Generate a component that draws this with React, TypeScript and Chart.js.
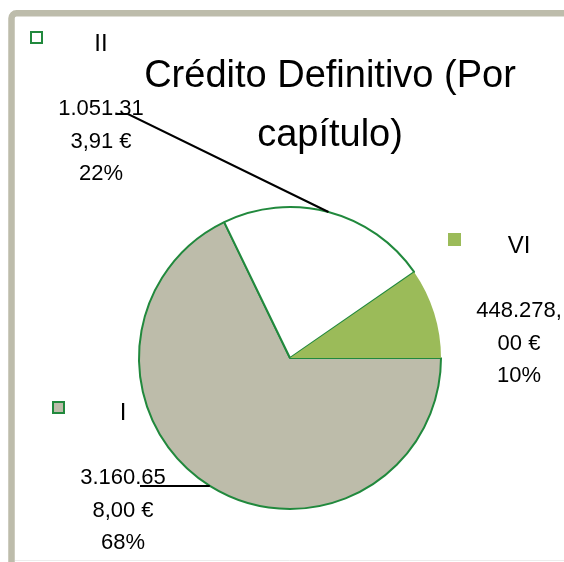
import React, { useEffect, useRef } from "react";
import { Chart, registerables } from "chart.js";

Chart.register(...registerables);

const categories = ["I", "II", "VI"];
const values = [3160658.0, 1051313.91, 448278.0];
const valueLines = [
  ["3.160.65", "8,00 €", "68%"],
  ["1.051.31", "3,91 €", "22%"],
  ["448.278,", "00 €", "10%"],
];
const titleLines = ["Crédito Definitivo (Por", "capítulo)"];

const sliceColors = ["#bdbcaa", "#ffffff", "#9bbb59"];
const edgeColors = ["#21893d", "#21893d", "#9bbb59"];
const FRAME = "#bdbcab";
const FONT = '"Liberation Sans", Arial, sans-serif';

const labelLayout = [
  { mx: 52, my: 401, cx: 123, nameY: 420, valY: 484, lead: [[140, 486]] },
  { mx: 30, my: 31, cx: 101, nameY: 51, valY: 115, lead: [[117, 114], [128, 114]] },
  { mx: 448, my: 233, cx: 519, nameY: 253, valY: 317, lead: null as null | number[][] },
];

const labelPlugin = {
  id: "customLabels",
  beforeDraw(chart: any) {
    const ctx = chart.ctx as CanvasRenderingContext2D;
    ctx.save();
    ctx.fillStyle = "#ffffff";
    ctx.fillRect(0, 0, chart.width, chart.height);
    ctx.strokeStyle = FRAME;
    ctx.lineWidth = 6.5;
    ctx.beginPath();
    const r = 5;
    const x0 = 11.5, y0 = 13.3;
    ctx.moveTo(x0, chart.height + 10);
    ctx.lineTo(x0, y0 + r);
    ctx.arcTo(x0, y0, x0 + r, y0, r);
    ctx.lineTo(chart.width + 10, y0);
    ctx.stroke();
    ctx.strokeStyle = "#ececec";
    ctx.lineWidth = 1;
    ctx.beginPath();
    ctx.moveTo(15, 560.5);
    ctx.lineTo(chart.width, 560.5);
    ctx.stroke();
    ctx.restore();
  },
  afterDraw(chart: any) {
    const ctx = chart.ctx as CanvasRenderingContext2D;
    const meta = chart.getDatasetMeta(0);
    ctx.save();
    ctx.fillStyle = "#000000";
    ctx.textAlign = "center";
    ctx.textBaseline = "alphabetic";
    ctx.font = `38px ${FONT}`;
    ctx.fillText(titleLines[0], 330, 87);
    ctx.fillText(titleLines[1], 330, 146);

    categories.forEach((name, i) => {
      const L = labelLayout[i];
      ctx.fillStyle = sliceColors[i];
      ctx.fillRect(L.mx, L.my, 13, 13);
      if (i !== 2) {
        ctx.strokeStyle = edgeColors[i];
        ctx.lineWidth = 2;
        ctx.strokeRect(L.mx + 1, L.my + 1, 11, 11);
      }
      ctx.fillStyle = "#000000";
      ctx.font = `24px ${FONT}`;
      ctx.fillText(name, L.cx, L.nameY);
      ctx.font = `22px ${FONT}`;
      valueLines[i].forEach((t, k) => {
        ctx.fillText(t, L.cx, L.valY + k * 32.5);
      });
      if (L.lead) {
        const arc = meta.data[i];
        const p = arc.getProps(["x", "y", "startAngle", "endAngle", "outerRadius"], true);
        const mid = (p.startAngle + p.endAngle) / 2;
        const ex = p.x + Math.cos(mid) * p.outerRadius;
        const ey = p.y + Math.sin(mid) * p.outerRadius;
        ctx.strokeStyle = "#000000";
        ctx.lineWidth = 2;
        ctx.beginPath();
        L.lead.forEach((pt, k) => (k === 0 ? ctx.moveTo(pt[0], pt[1]) : ctx.lineTo(pt[0], pt[1])));
        ctx.lineTo(ex, ey);
        ctx.stroke();
      }
    });
    ctx.restore();
  },
};

export default function App() {
  const ref = useRef<HTMLCanvasElement | null>(null);
  useEffect(() => {
    if (!ref.current) return;
    const chart = new Chart(ref.current, {
      type: "pie",
      data: {
        labels: categories,
        datasets: [
          {
            data: values,
            backgroundColor: sliceColors,
            borderColor: edgeColors,
            borderWidth: [2, 2, 0],
          },
        ],
      },
      options: {
        responsive: false,
        animation: false,
        rotation: 90,
        radius: 151,
        layout: { padding: { left: 139, right: 123, top: 207, bottom: 53 } },
        plugins: {
          legend: { display: false },
          title: { display: false },
          tooltip: { enabled: false },
        },
        events: [],
      } as any,
      plugins: [labelPlugin],
    });
    return () => chart.destroy();
  }, []);
  return (
    <div style={{ position: "fixed", left: 0, top: 0, width: 564, height: 562, background: "#fff" }}>
      <canvas ref={ref} width={564} height={562} style={{ display: "block" }} />
    </div>
  );
}
